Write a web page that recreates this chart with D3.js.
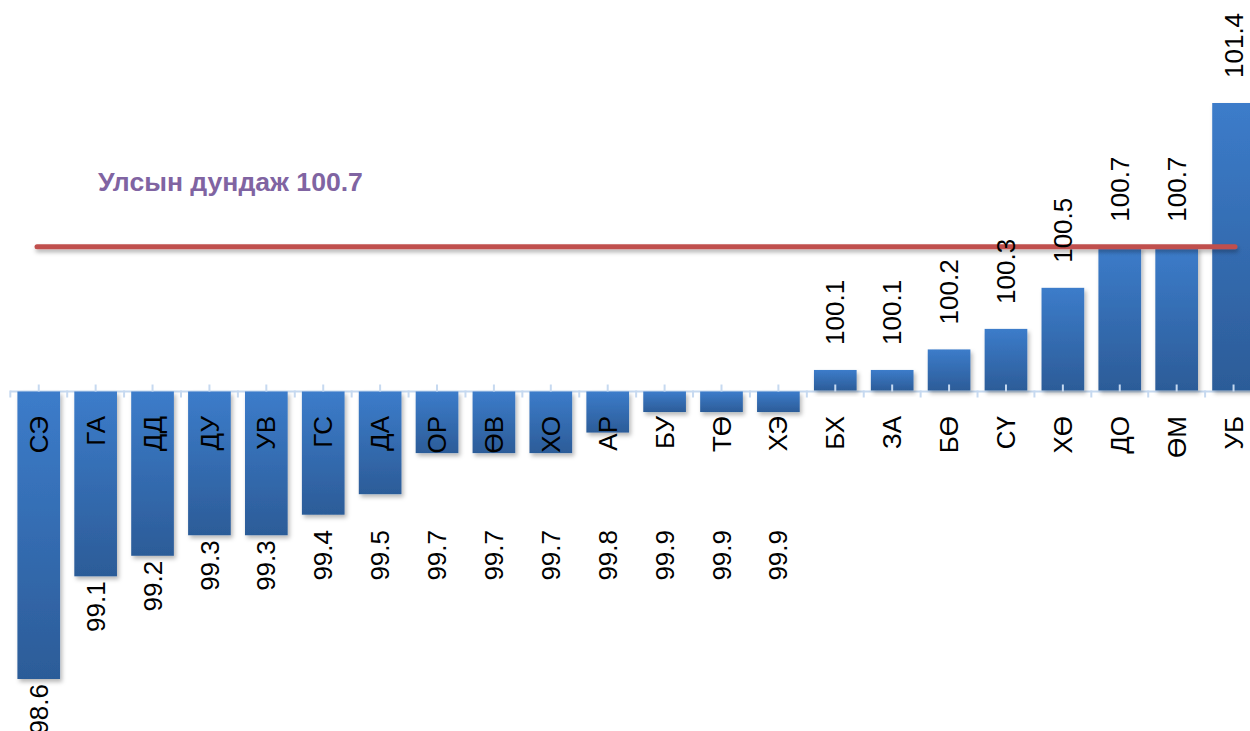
<!DOCTYPE html>
<html>
<head>
<meta charset="utf-8">
<script src="https://cdn.jsdelivr.net/npm/d3@7/dist/d3.min.js"></script>
<style>
  html, body { margin: 0; padding: 0; background: #fff; overflow: hidden; }
  svg { display: block; font-family: "Liberation Sans", Arial, sans-serif; }
</style>
</head>
<body>
<svg id="chart" width="1250" height="731"></svg>
<script>
'use strict';

var categories = ['СЭ', 'ГА', 'ДД', 'ДУ', 'УВ', 'ГС', 'ДА', 'ОР', 'ӨВ', 'ХО', 'АР',
    'БУ', 'ТӨ', 'ХЭ', 'БХ', 'ЗА', 'БӨ', 'СҮ', 'ХӨ', 'ДО', 'ӨМ', 'УБ'];
var values = [98.6, 99.1, 99.2, 99.3, 99.3, 99.4, 99.5, 99.7, 99.7, 99.7, 99.8,
    99.9, 99.9, 99.9, 100.1, 100.1, 100.2, 100.3, 100.5, 100.7, 100.7, 101.4];
var baseValue = 100;
var nationalAvg = 100.7;
var avgLabel = 'Улсын дундаж ' + nationalAvg;

var data = categories.map(function(c, i) { return {cat: c, val: values[i]}; });

var svg = d3.select('#chart');

var x = d3.scaleBand()
    .domain(categories)
    .range([10.3, 1262])
    .paddingInner(0.25)
    .paddingOuter(0.125);

var y = d3.scaleLinear()
    .domain([98.6, 101.4])
    .range([678, 103]);

var y0 = y(baseValue);
var axisColor = '#c6d9f0';

var defs = svg.append('defs');

var grad = defs.append('linearGradient')
    .attr('id', 'barGrad')
    .attr('x1', 0).attr('y1', 0)
    .attr('x2', 0).attr('y2', 1);
grad.append('stop').attr('offset', '0%').attr('stop-color', '#3c7cca');
grad.append('stop').attr('offset', '100%').attr('stop-color', '#2c5c98');

var shadow = defs.append('filter')
    .attr('id', 'shadow')
    .attr('x', '-20%').attr('y', '-20%')
    .attr('width', '150%').attr('height', '150%');
shadow.append('feDropShadow')
    .attr('dx', 2).attr('dy', 3)
    .attr('stdDeviation', 2)
    .attr('flood-color', '#000')
    .attr('flood-opacity', 0.28);

// a horizontal line has an empty bbox, so its filter region is in user space
var lineShadow = defs.append('filter')
    .attr('id', 'lineShadow')
    .attr('filterUnits', 'userSpaceOnUse')
    .attr('x', 0).attr('y', 200)
    .attr('width', 1250).attr('height', 100);
lineShadow.append('feDropShadow')
    .attr('dx', 1).attr('dy', 3)
    .attr('stdDeviation', 2)
    .attr('flood-color', '#000')
    .attr('flood-opacity', 0.3);

// axis line and ticks at category boundaries
var axisG = svg.append('g').attr('class', 'axis');
axisG.append('line')
    .attr('x1', x.range()[0]).attr('x2', 1250)
    .attr('y1', y0 + 1).attr('y2', y0 + 1)
    .attr('stroke', axisColor)
    .attr('stroke-width', 2);

var step = x.step(),
    firstEdge = x(categories[0]) - (step - x.bandwidth()) / 2;

axisG.selectAll('line.bound')
    .data(d3.range(categories.length + 1))
    .enter().append('line')
    .attr('class', 'bound')
    .attr('x1', function(i) { return firstEdge + i * step; })
    .attr('x2', function(i) { return firstEdge + i * step; })
    .attr('y1', y0)
    .attr('y2', y0 + 7)
    .attr('stroke', axisColor)
    .attr('stroke-width', 2);

// bars
svg.append('g').attr('class', 'bars')
    .selectAll('rect')
    .data(data)
    .enter().append('rect')
    .attr('x', function(d) { return x(d.cat); })
    .attr('width', x.bandwidth())
    .attr('y', function(d) { return Math.min(y(d.val), y0 + 1); })
    .attr('height', function(d) { return Math.abs(y(d.val) - y0); })
    .attr('fill', 'url(#barGrad)')
    .attr('filter', 'url(#shadow)');

// centre ticks drawn over the bars
svg.append('g').attr('class', 'center-ticks')
    .selectAll('line')
    .data(categories)
    .enter().append('line')
    .attr('x1', function(c) { return x(c) + x.bandwidth() / 2; })
    .attr('x2', function(c) { return x(c) + x.bandwidth() / 2; })
    .attr('y1', y0 - 6)
    .attr('y2', y0 + 1)
    .attr('stroke', axisColor)
    .attr('stroke-width', 2);

// national average line
svg.append('line')
    .attr('x1', 37).attr('x2', 1235)
    .attr('y1', y(nationalAvg)).attr('y2', y(nationalAvg))
    .attr('stroke', '#c0504d')
    .attr('stroke-width', 5)
    .attr('stroke-linecap', 'round')
    .attr('filter', 'url(#lineShadow)');

svg.append('text')
    .attr('x', 98).attr('y', 191)
    .attr('fill', '#8064a2')
    .attr('font-weight', 'bold')
    .attr('font-size', 26.6)
    .text(avgLabel);

// category labels, rotated
svg.append('g').attr('class', 'cat-labels')
    .selectAll('text')
    .data(data)
    .enter().append('text')
    .attr('transform', function(d) {
        return 'translate(' + (x(d.cat) + x.bandwidth() / 2) + ',416) rotate(-90)';
    })
    .attr('text-anchor', 'end')
    .attr('dy', '0.35em')
    .attr('font-size', 26)
    .attr('fill', '#000')
    .text(function(d) { return d.cat; });

// value labels: above positive bars, below negative ones
svg.append('g').attr('class', 'val-labels')
    .selectAll('text')
    .data(data)
    .enter().append('text')
    .attr('transform', function(d) {
        var cx = x(d.cat) + x.bandwidth() / 2,
            yy = d.val >= baseValue ? y(d.val) - 25 : Math.max(y(d.val) + 6, 530);
        return 'translate(' + cx + ',' + yy + ') rotate(-90)';
    })
    .attr('text-anchor', function(d) { return d.val >= baseValue ? 'start' : 'end'; })
    .attr('dy', '0.35em')
    .attr('font-size', 26)
    .attr('fill', '#000')
    .text(function(d) { return d.val.toFixed(1); });
</script>
</body>
</html>
